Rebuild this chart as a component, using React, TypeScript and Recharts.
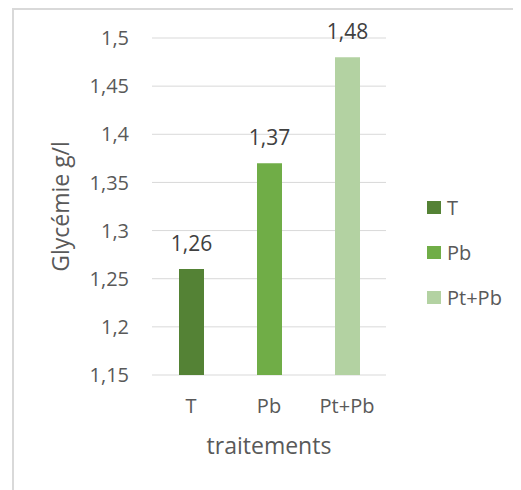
import { BarChart, Bar, XAxis, YAxis, CartesianGrid, Cell, LabelList, Label } from 'recharts'

const categories = ['T', 'Pb', 'Pt+Pb']
const glycemie = [1.26, 1.37, 1.48]
const barColors = ['#548235', '#70AD47', '#B3D2A2']
const yTicks = [1.15, 1.2, 1.25, 1.3, 1.35, 1.4, 1.45, 1.5]

const data = categories.map((name, i) => ({ name, value: glycemie[i] }))

const FONT = '"Open Sans", sans-serif'
const comma = (v: number) => String(v).replace('.', ',')

// ── Légende (à droite) ─────────────────────────────────────────────────────────
function SideLegend() {
  return (
    <div style={{ position: 'absolute', left: 419, top: 177, fontFamily: FONT }}>
      {categories.map((name, i) => (
        <div key={name} style={{ display: 'flex', alignItems: 'center', height: 45 }}>
          <span style={{ width: 14, height: 13, background: barColors[i], marginRight: 6 }} />
          <span style={{ fontSize: 20, color: '#595959' }}>{name}</span>
        </div>
      ))}
    </div>
  )
}

export default function App() {
  return (
    <div style={{ position: 'relative', width: 513, height: 482, overflow: 'hidden' }}>
      <div
        style={{
          position: 'absolute',
          left: 4,
          top: 0,
          width: 700,
          height: 700,
          borderLeft: '2px solid #d9d9d9',
          borderTop: '2px solid #d9d9d9',
        }}
      />
      <div style={{ position: 'absolute', left: 0, top: 0 }}>
        <BarChart
          width={505}
          height={474}
          data={data}
          margin={{ top: 30, right: 127, left: 0, bottom: 0 }}
          style={{ fontFamily: FONT }}
        >
          <CartesianGrid vertical={false} stroke="#d9d9d9" />
          <XAxis
            dataKey="name"
            height={107}
            tickLine={false}
            axisLine={false}
            tickSize={0}
            tickMargin={24}
            tick={{ fontSize: 20, fill: '#595959' }}
          >
            <Label
              value="traitements"
              position="insideBottom"
              offset={28}
              style={{ fontSize: 23, fill: '#595959' }}
            />
          </XAxis>
          <YAxis
            width={144}
            domain={[1.15, 1.5]}
            ticks={yTicks}
            tickFormatter={comma}
            tickLine={false}
            axisLine={false}
            tickSize={0}
            tickMargin={23}
            tick={{ fontSize: 20, fill: '#595959' }}
          >
            <Label
              value="Glycémie g/l"
              angle={-90}
              position="insideLeft"
              offset={53}
              style={{ fontSize: 23, fill: '#595959', textAnchor: 'middle' }}
            />
          </YAxis>
          <Bar dataKey="value" barSize={25} isAnimationActive={false}>
            {data.map((d, i) => (
              <Cell key={d.name} fill={barColors[i]} />
            ))}
            <LabelList
              dataKey="value"
              position="top"
              offset={18}
              formatter={(v: number) => comma(v)}
              style={{ fontSize: 21, fill: '#404040' }}
            />
          </Bar>
        </BarChart>
      </div>
      <SideLegend />
    </div>
  )
}
